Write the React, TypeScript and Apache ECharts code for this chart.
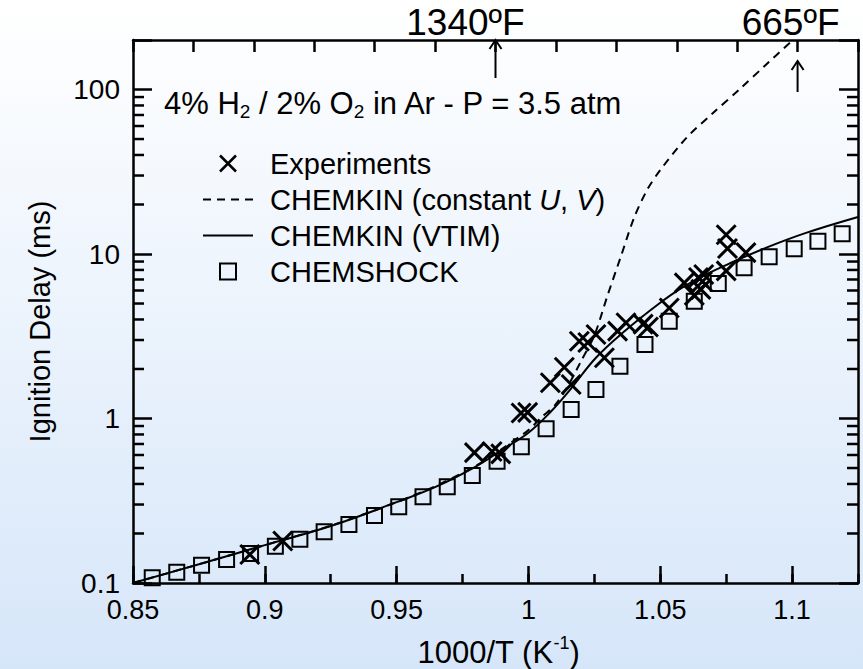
import React, { useEffect, useRef } from 'react';
import * as echarts from 'echarts';

// ---- data ----
const experiments: [number, number][] = [
  [0.8943, 0.149], [0.9068, 0.18], [0.9795, 0.62], [0.9862, 0.63], [0.9895, 0.61],
  [0.9972, 1.08], [0.9997, 1.09], [1.0083, 1.65], [1.0136, 2.05], [1.0162, 1.61],
  [1.0193, 2.95], [1.0225, 2.9], [1.0256, 3.24], [1.0288, 2.34], [1.0338, 3.4],
  [1.037, 3.82], [1.0435, 3.75], [1.0455, 3.6], [1.0534, 4.7], [1.0591, 6.68],
  [1.0629, 5.6], [1.0645, 7.2], [1.066, 6.8], [1.0654, 6.1], [1.0665, 7.5],
  [1.075, 13.1], [1.0755, 10.8], [1.075, 7.9], [1.0825, 10.2],
];
const chemkinConstUV: [number, number][] = [
  [0.85, 0.1], [0.875, 0.13], [0.9, 0.17], [0.925, 0.223], [0.95, 0.31], [0.965, 0.39],
  [0.98, 0.515], [0.99, 0.655], [1.0, 0.85], [1.005, 1.02], [1.01, 1.2], [1.015, 1.58],
  [1.02, 2.24], [1.025, 3.2], [1.03, 5.6], [1.035, 9.6], [1.04, 16.5], [1.045, 24.5],
  [1.05, 32.4], [1.06, 51], [1.07, 72], [1.08, 100], [1.09, 141], [1.1, 198],
];
const chemkinVTIM: [number, number][] = [
  [0.85, 0.1], [0.875, 0.13], [0.9, 0.17], [0.925, 0.222], [0.95, 0.31], [0.965, 0.385],
  [0.98, 0.51], [0.99, 0.645], [1.0, 0.82], [1.008, 1.08], [1.016, 1.51], [1.0256, 2.34],
  [1.037, 3.45], [1.0496, 5.0], [1.058, 6.2], [1.068, 7.6], [1.078, 9.0], [1.09, 10.9],
  [1.105, 13.4], [1.125, 16.8],
];
const chemshock: [number, number][] = [
  [0.8573, 0.1076], [0.8666, 0.1163], [0.876, 0.1283], [0.8855, 0.139], [0.8946, 0.151],
  [0.904, 0.1674], [0.9133, 0.1846], [0.9225, 0.2048], [0.9319, 0.2268], [0.9416, 0.2573],
  [0.9508, 0.2906], [0.96, 0.3342], [0.9692, 0.3845], [0.9787, 0.4503], [0.9881, 0.5501],
  [0.9973, 0.673], [1.0067, 0.8657], [1.0162, 1.134], [1.0256, 1.5], [1.0347, 2.08],
  [1.0442, 2.82], [1.0534, 3.9], [1.0629, 5.17], [1.072, 6.62], [1.0818, 8.24],
  [1.0913, 9.62], [1.1008, 10.75], [1.1098, 11.96], [1.119, 13.3],
];
const logMinorTicks = [
  0.2, 0.3, 0.4, 0.5, 0.6, 0.7, 0.8, 0.9,
  2, 3, 4, 5, 6, 7, 8, 9,
  20, 30, 40, 50, 60, 70, 80, 90,
];
const topTickCount = 12;
const annotations = [
  { text: '1340ºF', tick: 6 },
  { text: '665ºF', tick: 11 },
];
const seriesNames = ['Experiments', 'CHEMKIN (constant U, V)', 'CHEMKIN (VTIM)', 'CHEMSHOCK'];

const X_MIN = 0.85;
const X_MAX = 1.125;
const Y_MIN = 0.1;
const Y_MAX = 200;

const FONT = 'Arial, "Liberation Sans", Helvetica, sans-serif';
const BLACK = '#000';
const AXIS_W = 2.5;
const CROSS = 'path://M0,0L10,10M10,0L0,10';
const SQUARE = 'path://M0,0L10,0L10,10L0,10Z';

export default function App() {
  const ref = useRef<HTMLDivElement>(null);

  useEffect(() => {
    if (!ref.current) return;
    const chart = echarts.init(ref.current, undefined, { renderer: 'svg' });

    const axisLine = { show: true, lineStyle: { color: BLACK, width: AXIS_W } };
    const tick = (len: number) => ({ show: true, inside: true, length: len, lineStyle: { color: BLACK, width: AXIS_W } });
    const hollow = (w: number) => ({ color: 'transparent', borderColor: BLACK, borderWidth: w, opacity: 1 });

    const option: any = {
      animation: false,
      backgroundColor: new echarts.graphic.LinearGradient(0, 0, 0, 1, [
        { offset: 0, color: '#ffffff' },
        { offset: 1, color: '#d6e6f9' },
      ]),
      textStyle: { fontFamily: FONT, color: BLACK },
      title: {
        text: '4% H{s|2} / 2% O{s|2} in Ar - P = 3.5 atm',
        left: 159,
        top: 80,
        textStyle: {
          fontFamily: FONT, fontSize: 31, fontWeight: 'normal', color: BLACK, lineHeight: 36,
          rich: { s: { fontFamily: FONT, fontSize: 19, color: BLACK, lineHeight: 19, verticalAlign: 'bottom' } },
        },
      },
      legend: {
        orient: 'vertical',
        left: 197,
        top: 143,
        itemWidth: 50,
        itemHeight: 16,
        itemGap: 5,
        selectedMode: false,
        data: [
          { name: seriesNames[0], icon: CROSS, itemStyle: hollow(2.5) },
          { name: seriesNames[1], itemStyle: { opacity: 0 } },
          { name: seriesNames[2], itemStyle: { opacity: 0 } },
          { name: seriesNames[3], icon: SQUARE, itemStyle: hollow(2) },
        ],
        formatter: (name: string) =>
          name === seriesNames[1] ? 'CHEMKIN (constant {i|U}, {i|V})' : name,
        textStyle: {
          fontFamily: FONT, fontSize: 29, color: BLACK, lineHeight: 31, padding: [0, 0, 0, 12],
          rich: { i: { fontFamily: FONT, fontSize: 29, fontStyle: 'italic', color: BLACK } },
        },
      },
      grid: { left: 133, right: 5, top: 40, bottom: 86, outerBoundsMode: 'none' },
      xAxis: [
        {
          type: 'value', position: 'bottom', min: X_MIN, max: X_MAX, interval: 0.05,
          axisLine, axisTick: tick(17), splitLine: { show: false },
          axisLabel: { show: true, margin: 13, fontSize: 27, color: BLACK, fontFamily: FONT, showMaxLabel: false },
          name: '1000/T (K{sup|-1})', nameLocation: 'middle', nameGap: 51,
          nameTextStyle: {
            fontFamily: FONT, fontSize: 31, color: BLACK, lineHeight: 36, padding: [0, 0, 0, 6],
            rich: { sup: { fontFamily: FONT, fontSize: 18, color: BLACK, lineHeight: 18, verticalAlign: 'top' } },
          },
        },
        {
          type: 'value', position: 'bottom', min: X_MIN, max: X_MAX, interval: 0.025,
          axisLine: { show: false }, axisTick: tick(9), axisLabel: { show: false }, splitLine: { show: false },
        },
        {
          type: 'value', position: 'top', min: 0, max: topTickCount, interval: 1,
          axisLine, axisTick: tick(12), axisLabel: { show: false }, splitLine: { show: false },
        },
      ],
      yAxis: [
        {
          type: 'log', logBase: 10, position: 'left', min: Y_MIN, max: Y_MAX,
          axisLine, axisTick: tick(19), splitLine: { show: false },
          axisLabel: {
            show: true, margin: 13, fontSize: 28, color: BLACK, fontFamily: FONT,
            formatter: (v: number) => {
              const l = Math.log10(v);
              return Math.abs(l - Math.round(l)) < 1e-6 ? String(Number(v.toPrecision(6))) : '';
            },
          },
          name: 'Ignition Delay (ms)', nameLocation: 'middle', nameGap: 79,
          nameTextStyle: { fontFamily: FONT, fontSize: 29, color: BLACK, padding: [0, 20, 0, 0] },
        },
        {
          type: 'log', logBase: 10, position: 'right', min: Y_MIN, max: Y_MAX,
          axisLine, axisTick: tick(19), axisLabel: { show: false }, splitLine: { show: false },
        },
      ],
      series: [
        {
          name: seriesNames[0], type: 'scatter', xAxisIndex: 0, yAxisIndex: 0,
          symbol: CROSS, symbolSize: 19, data: experiments, z: 4,
          itemStyle: hollow(3),
          emphasis: { disabled: true },
        },
        {
          name: seriesNames[1], type: 'line', xAxisIndex: 0, yAxisIndex: 0,
          data: chemkinConstUV, symbol: 'none', showSymbol: false, smooth: 0.3,
          lineStyle: { color: BLACK, width: 2, type: [8, 6] }, itemStyle: { color: BLACK }, z: 3,
          emphasis: { disabled: true },
        },
        {
          name: seriesNames[2], type: 'line', xAxisIndex: 0, yAxisIndex: 0,
          data: chemkinVTIM, symbol: 'none', showSymbol: false, smooth: 0.4,
          lineStyle: { color: BLACK, width: 2 }, itemStyle: { color: BLACK }, z: 3,
          emphasis: { disabled: true },
        },
        {
          name: seriesNames[3], type: 'scatter', xAxisIndex: 0, yAxisIndex: 0,
          symbol: 'rect', symbolSize: 15, data: chemshock, z: 2,
          itemStyle: hollow(2),
          emphasis: { disabled: true },
        },
        {
          name: 'minorLogTicks', type: 'custom', xAxisIndex: 0, yAxisIndex: 0, silent: true, clip: false,
          data: logMinorTicks.map((v) => [X_MIN, v]),
          renderItem: (params: any, api: any) => {
            const p = api.coord([api.value(0), api.value(1)]);
            const cs = params.coordSys;
            const style = { stroke: BLACK, lineWidth: AXIS_W };
            return {
              type: 'group',
              children: [
                { type: 'line', shape: { x1: cs.x, y1: p[1], x2: cs.x + 11, y2: p[1] }, style },
                { type: 'line', shape: { x1: cs.x + cs.width - 11, y1: p[1], x2: cs.x + cs.width, y2: p[1] }, style },
              ],
            };
          },
        },
      ],
    };

    chart.setOption(option);

    const topY = chart.convertToPixel({ yAxisIndex: 0 }, Y_MAX) as number;
    const graphics: any[] = [];
    annotations.forEach((a, i) => {
      const x = chart.convertToPixel({ xAxisIndex: 2 }, a.tick) as number;
      const big = i === 0;
      const y0 = big ? topY : topY + 21;
      const y1 = big ? topY + 38 : topY + 52;
      graphics.push(
        {
          type: 'text', x: big ? x - 30 : x - 7, y: 22,
          style: { text: a.text, fontFamily: FONT, fontSize: 37, fill: BLACK, align: 'center', verticalAlign: 'middle' },
        },
        { type: 'line', shape: { x1: x, y1: y0, x2: x, y2: y1 }, style: { stroke: BLACK, lineWidth: 2 } },
        {
          type: 'polyline',
          shape: { points: [[x - 6, y0 + 9], [x, y0], [x + 6, y0 + 9]] },
          style: { stroke: BLACK, lineWidth: 2, fill: null },
        },
      );
    });
    chart.setOption({ graphic: graphics });

    return () => chart.dispose();
  }, []);

  return <div ref={ref} style={{ position: 'fixed', left: 0, top: 0, width: 863, height: 669 }} />;
}
